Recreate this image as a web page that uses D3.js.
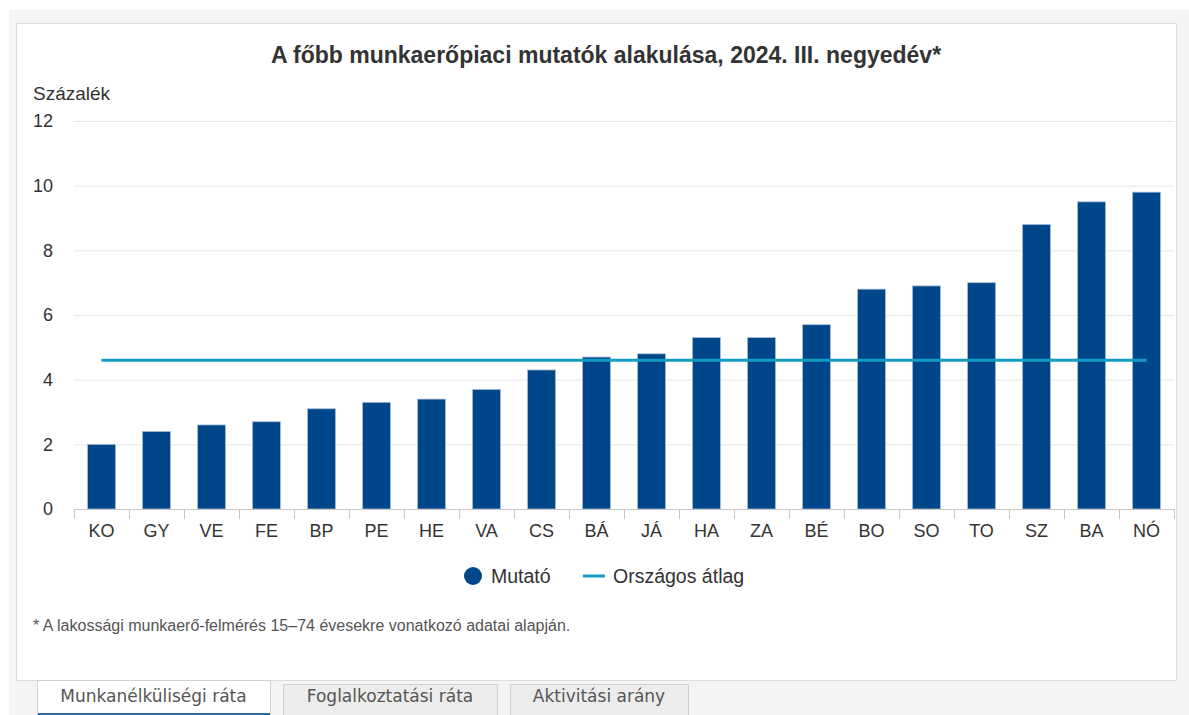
<!DOCTYPE html>
<html lang="hu">
<head>
<meta charset="UTF-8">
<script src="https://d3js.org/d3.v7.min.js"></script>
<title>Munkanélküliségi ráta</title>
<style>
  body { margin: 0; background: #fff; }
  svg { display: block; font-family: "Liberation Sans", Arial, sans-serif; }
</style>
</head>
<body>
<script>
// megyék rövidítései és a mutató értékei (%)
var categories = ["KO","GY","VE","FE","BP","PE","HE","VA","CS","BÁ","JÁ","HA","ZA","BÉ","BO","SO","TO","SZ","BA","NÓ"];
var values = [2.0, 2.4, 2.6, 2.7, 3.1, 3.3, 3.4, 3.7, 4.3, 4.7, 4.8, 5.3, 5.3, 5.7, 6.8, 6.9, 7.0, 8.8, 9.5, 9.8];
var average = 4.6;
var yTicks = [0, 2, 4, 6, 8, 10, 12];
var tabs = ["Munkanélküliségi ráta", "Foglalkoztatási ráta", "Aktivitási arány"];

var W = 1189, H = 715;
var svg = d3.select("body").append("svg").attr("width", W).attr("height", H);

// háttér és panel
svg.append("rect").attr("x", 9).attr("y", 10).attr("width", W - 9).attr("height", H - 10).attr("fill", "#f4f4f4");
svg.append("rect").attr("x", 16.5).attr("y", 23.5).attr("width", 1160).attr("height", 657)
   .attr("fill", "#fff").attr("stroke", "#dcdcdc");

var x = d3.scaleBand().domain(categories).range([74, 1174]).paddingInner(0.49).paddingOuter(0.245);
var y = d3.scaleLinear().domain([0, 12]).range([509, 121]);

// cím
svg.append("text").attr("x", 606).attr("y", 63).attr("text-anchor", "middle")
   .style("font-size", "23px").style("font-weight", "bold").style("fill", "#333")
   .text("A főbb munkaerőpiaci mutatók alakulása, 2024. III. negyedév*");

svg.append("text").attr("x", 33).attr("y", 100).style("font-size", "19px").style("fill", "#333").text("Százalék");

// rácsvonalak és y tengely
var yAxis = d3.axisLeft(y).tickValues(yTicks).tickSize(-1100).tickPadding(21).tickFormat(d3.format("d"));
var gy = svg.append("g").attr("transform", "translate(74,0)").call(yAxis);
gy.select(".domain").remove();
gy.selectAll(".tick line").attr("stroke", "#e6e6e6");
gy.selectAll(".tick text").style("font-size", "18px").style("fill", "#333").attr("font-family", null);

// oszlopok
svg.selectAll("rect.bar").data(values).join("rect").attr("class", "bar")
   .attr("x", (d, i) => x(categories[i]))
   .attr("y", d => y(d))
   .attr("width", x.bandwidth())
   .attr("height", d => y(0) - y(d))
   .attr("fill", "#00468a")
   .attr("stroke", "#a9bfd9").attr("stroke-width", 0.8);

// x tengely
var xAxis = d3.axisBottom(x).tickSize(0).tickPadding(15);
var gx = svg.append("g").attr("transform", "translate(0,509)").call(xAxis);
gx.select(".domain").attr("stroke", "#c8c8c8").attr("d", "M74.5,0.5H1174.5");
gx.selectAll(".tick text").style("font-size", "18px").style("fill", "#333").attr("font-family", null);
var bounds = d3.range(categories.length + 1).map(i => 74 + i * x.step());
svg.selectAll("line.xtick").data(bounds).join("line").attr("class", "xtick")
   .attr("x1", d => Math.round(d) + 0.5).attr("x2", d => Math.round(d) + 0.5)
   .attr("y1", 509).attr("y2", 519).attr("stroke", "#c8c8c8");

// országos átlag
var x0 = x(categories[0]) + x.bandwidth() / 2;
var x1 = x(categories[categories.length - 1]) + x.bandwidth() / 2;
svg.append("line").attr("x1", x0).attr("x2", x1).attr("y1", y(average)).attr("y2", y(average))
   .attr("stroke", "#139dc2").attr("stroke-width", 3);

// jelmagyarázat
var lg = svg.append("g").style("font-size", "19.5px").style("fill", "#333");
lg.append("circle").attr("cx", 473).attr("cy", 576).attr("r", 9).attr("fill", "#00468a");
lg.append("text").attr("x", 491).attr("y", 583).text("Mutató");
lg.append("line").attr("x1", 583).attr("x2", 605).attr("y1", 576).attr("y2", 576)
   .attr("stroke", "#139dc2").attr("stroke-width", 3);
lg.append("text").attr("x", 613).attr("y", 583).text("Országos átlag");

// lábjegyzet
svg.append("text").attr("x", 33).attr("y", 631).style("font-size", "16px").style("fill", "#555")
   .text("* A lakossági munkaerő-felmérés 15–74 évesekre vonatkozó adatai alapján.");

// fülek
var tabX = [37, 283, 510], tabW = [233, 214, 178];
tabs.forEach(function(t, i) {
  var active = i === 0;
  svg.append("rect").attr("x", tabX[i] + 0.5).attr("y", active ? 680.5 : 684.5)
     .attr("width", tabW[i]).attr("height", 40)
     .attr("fill", active ? "#fff" : "#ececec").attr("stroke", "#d0d0d0");
  if (active) {
    svg.append("line").attr("x1", tabX[i] + 1).attr("x2", tabX[i] + tabW[i]).attr("y1", 714).attr("y2", 714)
       .attr("stroke", "#2c67a6").attr("stroke-width", 2);
  }
  svg.append("text").attr("x", tabX[i] + tabW[i] / 2).attr("y", 702).attr("text-anchor", "middle")
     .style("font-family", "'DejaVu Sans', Verdana, sans-serif")
     .style("font-size", "17px").style("fill", "#555").text(t);
});
</script>
</body>
</html>
